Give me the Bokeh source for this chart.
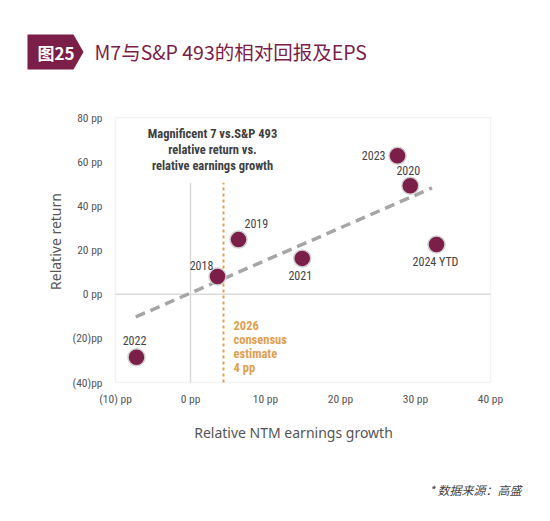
import math
from bokeh.plotting import figure
from bokeh.models import (ColumnDataSource, Label, FixedTicker, Range1d, LinearAxis,
                          BoxAnnotation)
from bokeh.core.properties import value
from bokeh.embed import file_html
from bokeh.resources import INLINE

# ---------------- data ----------------
years = ["2018", "2019", "2020", "2021", "2022", "2023", "2024 YTD"]
eps_growth = [3.6, 6.4, 29.3, 14.9, -7.2, 27.6, 32.8]      # relative NTM earnings growth (pp)
rel_return = [8.0, 24.7, 49.1, 16.2, -28.6, 62.7, 22.5]    # relative return (pp)
trend_x = [-7.3, 32.2]
trend_y = [-10.3, 48.1]
consensus_x = 4.4
x_ticks = [-10, 0, 10, 20, 30, 40]
x_tick_labels = ["(10) pp", "0 pp", "10 pp", "20 pp", "30 pp", "40 pp"]
y_ticks = [-40, -20, 0, 20, 40, 60, 80]
y_tick_labels = ["(40)pp", "(20)pp", "0 pp", "20 pp", "40 pp", "60 pp", "80 pp"]
title_tag = "图25"
title_text = "M7与S&P 493的相对回报及EPS"
source_note = "* 数据来源：高盛"

# ---------------- styles ----------------
MAROON = "#7B1E48"
ORANGE = "#E0A050"
COND = "'Roboto Condensed', 'DejaVu Sans Condensed', sans-serif"
CJK = "Noto Sans CJK SC"

W, H = 534, 505
PL, PR, PT, PB = 115, 490, 117, 382     # plot-area box in page pixels
X0, X1, Y0, Y1 = -10, 40, -40, 80
SX = (X1 - X0) / (PR - PL)
SY = (Y1 - Y0) / (PB - PT)


def dx(px):  # page px -> data x
    return X0 + (px - PL) * SX


def dy(py):  # page px -> data y
    return Y1 - (py - PT) * SY


p = figure(width=W, height=H, x_range=Range1d(dx(0), dx(W)), y_range=Range1d(dy(H), dy(0)),
           x_axis_type=None, y_axis_type=None, output_backend="svg", toolbar_location=None,
           min_border=0, min_border_left=0, min_border_right=0, min_border_top=0,
           min_border_bottom=0)
p.outline_line_color = None
p.grid.visible = False

# plot-area box
p.add_layout(BoxAnnotation(left=X0, right=X1, bottom=Y0, top=Y1, fill_alpha=0,
                           line_color="#d6d6d6", line_width=1.5, level="underlay"))

# axes at the plot-area edges
xax = LinearAxis(fixed_location=Y0, ticker=FixedTicker(ticks=x_ticks),
                 major_label_overrides={t: l for t, l in zip(x_ticks, x_tick_labels)})
yax = LinearAxis(fixed_location=X0, ticker=FixedTicker(ticks=y_ticks),
                 major_label_overrides={t: l for t, l in zip(y_ticks, y_tick_labels)})
for ax in (xax, yax):
    ax.axis_line_color = None
    ax.major_tick_line_color = None
    ax.minor_tick_line_color = None
    ax.major_label_text_font = COND
    ax.major_label_text_font_size = "11.5px"
    ax.major_label_text_color = "#555555"
xax.major_label_standoff = 3
yax.major_label_standoff = 7
p.add_layout(xax, "below")
p.add_layout(yax, "left")

# reference lines
p.segment(x0=[X0], y0=[0], x1=[X1], y1=[0], line_color="#d9d9d9", line_width=1.5)
p.segment(x0=[0], y0=[Y0], x1=[0], y1=[50.5], line_color="#d9d9d9", line_width=1.5)
p.segment(x0=[consensus_x], y0=[Y0], x1=[consensus_x], y1=[50.5],
          line_color=ORANGE, line_width=2, line_dash="3 3")

# trend line
p.line(trend_x, trend_y, line_color="#A6A6A6", line_width=3.5, line_dash="10 6")

# points
src = ColumnDataSource(dict(x=eps_growth, y=rel_return, year=years,
                            xo=[-16, 6, -2, -2, -2, -12, -1],
                            yo=[-11, -16, -15, 17, -17, 0, 18],
                            al=["center", "left", "center", "center", "center", "right", "center"]))
p.scatter("x", "y", source=src, size=17, fill_color=MAROON, line_color="#cfcfcf", line_width=1.5)
p.text("x", "y", text="year", source=src, x_offset="xo", y_offset="yo",
       text_align="al", text_baseline="middle", text_font=value(COND),
       text_font_size="12px", text_color="#444444")

# chart annotations
for i, t in enumerate(["Magnificent 7 vs.S&P 493", "relative return vs.", "relative earnings growth"]):
    p.add_layout(Label(x=dx(212), y=dy(133 + 16 * i), text=t, text_align="center",
                       text_baseline="middle", text_font=COND, text_font_size="12.5px",
                       text_font_style="bold", text_color="#404040"))
for i, t in enumerate(["2026", "consensus", "estimate", "4 pp"]):
    p.add_layout(Label(x=dx(233), y=dy(325 + 14 * i), text=t, text_align="left",
                       text_baseline="middle", text_font=COND, text_font_size="12.5px",
                       text_font_style="bold", text_color=ORANGE))

# axis titles
p.add_layout(Label(x=dx(55), y=dy(241), text="Relative return", angle=math.pi / 2,
                   text_align="center", text_baseline="middle", text_font="Noto Sans",
                   text_font_size="14px", text_color="#555555"))
p.add_layout(Label(x=dx(293), y=dy(432), text="Relative NTM earnings growth",
                   text_align="center", text_baseline="middle", text_font="Noto Sans",
                   text_font_size="14px", text_color="#555555"))

# header
p.patch([dx(27), dx(73), dx(83), dx(73), dx(27)], [dy(34), dy(34), dy(51.5), dy(69), dy(69)],
        fill_color=MAROON, line_color=None)
p.add_layout(Label(x=dx(37), y=dy(52), text=title_tag, text_align="left",
                   text_baseline="middle", text_font=CJK, text_font_size="17px",
                   text_font_style="bold", text_color="white"))
p.add_layout(Label(x=dx(94), y=dy(51), text=title_text, text_align="left",
                   text_baseline="middle", text_font=CJK, text_font_size="19.5px",
                   text_color=MAROON))

# footer
p.add_layout(Label(x=dx(521), y=dy(489), text=source_note, text_align="right",
                   text_baseline="middle", text_font=CJK, text_font_size="12px",
                   text_font_style="italic", text_color="#444444"))

open("out.html", "w").write(file_html(p, INLINE))
